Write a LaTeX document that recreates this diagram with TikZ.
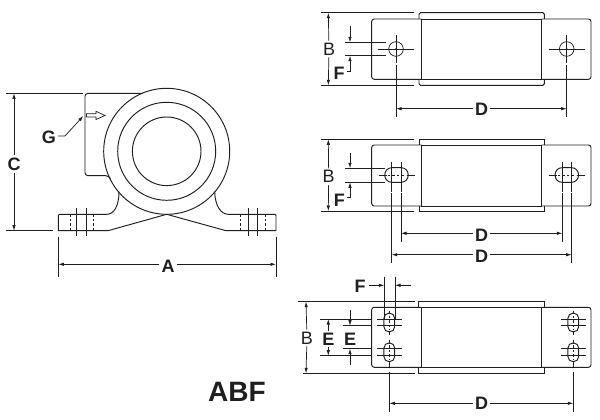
\documentclass[tikz,border=0pt]{standalone}
\usepackage{fontspec}
\setmainfont{Liberation Sans}
\usetikzlibrary{arrows.meta}
\definecolor{ink}{gray}{0.12}
\tikzset{
  x=1pt,y=-1pt,
  outline/.style={draw=ink,line width=0.95pt},
  thinl/.style={draw=ink,line width=0.7pt},
  hidden/.style={draw=ink,line width=0.7pt,dash pattern=on 2.5pt off 2pt},
  dim/.style={draw=ink,line width=0.7pt,-{Latex[length=5.5pt,width=3.4pt]}},
  lbl/.style={font=\bfseries\fontsize{18}{18}\selectfont,text=ink,inner sep=2pt},
  lblm/.style={font=\fontsize{18}{18}\selectfont,text=ink,inner sep=2pt},
}
\begin{document}
\begin{tikzpicture}
\useasboundingbox[fill=white] (0,0) rectangle (600,420);

% ---------- side view ----------
\coordinate (cc) at (166.7,151.3);
\draw[outline,rounded corners=3pt] (142.7,93.3) -- (85,93.3) -- (85,175.7) -- (106,175.7);
\draw[outline] (106,175.7) .. controls (108,176) and (109,177) .. (110.5,178.5);
\draw[outline] (cc) circle[radius=63];
\draw[outline] (cc) circle[radius=49];
\draw[outline] (cc) circle[radius=34.3];
% feet
\draw[outline,line join=round] (119,191.7) .. controls (119,206) and (114,214.3) .. (106.7,214.3)
  -- (59.5,214.3) -- (58.3,215.5) -- (58.3,230.7) -- (108,230.7) -- (166.7,214.3)
  -- (226,230.7) -- (276,230.7) -- (276,215.5) -- (275,214.3) -- (228.3,214.3)
  .. controls (221,214.3) and (215,206) .. (214.7,191.7);
% bolts
\foreach \bx in {76,86.7,248.3,257.3} \draw[thinl] (\bx,208.3) -- (\bx,236);
\foreach \bx in {70.7,93.3,240.7,265} \draw[hidden] (\bx,214.3) -- (\bx,230.7);
% C
\coordinate (c1) at (6,93.3); \coordinate (c2) at (82.7,93.3);
\coordinate (c3) at (6,230.7); \coordinate (c4) at (53,230.7);
\draw[thinl] (c1) -- (c2);
\draw[thinl] (c3) -- (c4);
\node[lbl] (lC) at (14,164) {C};
\coordinate (c5) at (14,93.3); \coordinate (c6) at (14,230.7);
\draw[dim] (lC) -- (c5);
\draw[dim] (lC) -- (c6);
% A
\coordinate (a1) at (58.3,236.7); \coordinate (a2) at (58.3,276.7);
\coordinate (a3) at (276,236.7); \coordinate (a4) at (276,276.7);
\draw[thinl] (a1) -- (a2);
\draw[thinl] (a3) -- (a4);
\node[lbl] (lA) at (168,266) {A};
\coordinate (a5) at (58.3,264.3); \coordinate (a6) at (276,264.3);
\draw[dim] (lA.west|-a5) -- (a5);
\draw[dim] (lA.east|-a6) -- (a6);
% G
\node[lbl] (lG) at (49,137) {G};
\coordinate (g1) at (65,136); \coordinate (g2) at (83.3,116);
\draw[dim] (lG.east|-g1) -- (g1) -- (g2);
\draw[thinl,line join=miter] (86.5,113.8) -- (96,113.8) -- (96,111.3) -- (105,115.5) -- (96,119.5) -- (96,117) -- (86.5,117) -- cycle;

% ---------- top view 1 ----------
\draw[outline,rounded corners=2.5pt] (421.7,79.3) -- (371.7,79.3) -- (371.7,19) -- (421.7,19);
\draw[outline,rounded corners=2.5pt] (541.7,19) -- (591,19) -- (591,79.3) -- (541.7,79.3);
\draw[outline] (421.7,19) rectangle (541.7,79.3);
\draw[outline,rounded corners=1.5pt] (419,19) -- (419,12.7) -- (544.3,12.7) -- (544.3,19);
\draw[outline,rounded corners=1.5pt] (419,79.3) -- (419,85.3) -- (544.3,85.3) -- (544.3,79.3);
\foreach \hx in {396,566.7}{
  \draw[thinl] (\hx,49) circle[radius=7.3];
  \fill[ink] (\hx,49) circle[radius=0.9];
  \draw[thinl] (\hx-18,49) -- (\hx+18,49);
  \draw[thinl] (\hx,35) -- (\hx,63);
  \draw[thinl] (\hx,65) -- (\hx,116.7);
}
\draw[thinl] (320.7,12.7) -- (414,12.7);
\draw[thinl] (320.7,85.3) -- (414,85.3);
\node[lblm] (lB1) at (329,49) {B};
\coordinate (b1t) at (328.3,12.7); \coordinate (b1b) at (328.3,85.3);
\draw[dim] (lB1) -- (b1t);
\draw[dim] (lB1) -- (b1b);
\draw[thinl] (345,42.3) -- (386,42.3);
\draw[thinl] (345,55.7) -- (386,55.7);
\coordinate (f1a) at (350,26); \coordinate (f1b) at (350,42.3);
\draw[dim] (f1a) -- (f1b);
\node[lbl] (lF1) at (339,73) {F};
\coordinate (f1c) at (350,71); \coordinate (f1d) at (350,55.7);
\draw[dim] (lF1.east|-f1c) -- (f1c) -- (f1d);
\node[lbl] (lD1) at (481.7,109) {D};
\coordinate (d1a) at (396,108.7); \coordinate (d1b) at (566.7,108.7);
\draw[dim] (lD1.west|-d1a) -- (d1a);
\draw[dim] (lD1.east|-d1b) -- (d1b);

% ---------- top view 2 ----------
\draw[outline,rounded corners=2.5pt] (421.7,206) -- (371.7,206) -- (371.7,145) -- (421.7,145);
\draw[outline,rounded corners=2.5pt] (541.7,145) -- (591,145) -- (591,206) -- (541.7,206);
\draw[outline] (421.7,145) rectangle (541.7,206);
\draw[outline] (419,145) -- (419,139.3) -- (544.3,139.3) -- (544.3,145);
\draw[outline] (419,206) -- (419,211) -- (544.3,211) -- (544.3,206);
\foreach \sx/\xa/\xb in {396.5/391.7/401,566.8/562.3/571.7}{
  \draw[outline,rounded corners=6.9pt] (\sx-11.7,167.7) rectangle (\sx+11.7,182.3);
  \draw[hidden] (\sx-9,175) -- (\sx+9,175);
  \draw[thinl] (\sx-18,175) -- (\sx-10,175);
  \draw[thinl] (\sx+10,175) -- (\sx+18,175);
  \draw[thinl] (\xa,162) -- (\xa,191.7);
  \draw[thinl] (\xb,162) -- (\xb,191.7);
}
\draw[thinl] (320.7,139.3) -- (414,139.3);
\draw[thinl] (320.7,211) -- (414,211);
\node[lblm] (lB2) at (328.7,176.7) {B};
\coordinate (b2t) at (328.3,139.3); \coordinate (b2b) at (328.3,211);
\draw[dim] (lB2) -- (b2t);
\draw[dim] (lB2) -- (b2b);
\draw[thinl] (345,168.3) -- (385,168.3);
\draw[thinl] (345,182.3) -- (385,182.3);
\coordinate (f2a) at (350,153); \coordinate (f2b) at (350,168.3);
\draw[dim] (f2a) -- (f2b);
\node[lbl] (lF2) at (339.3,200.7) {F};
\coordinate (f2c) at (350,197); \coordinate (f2d) at (350,182.3);
\draw[dim] (lF2.east|-f2c) -- (f2c) -- (f2d);
\draw[thinl] (401,193.3) -- (401,241.7);
\draw[thinl] (562.3,193.3) -- (562.3,241.7);
\draw[thinl] (391.7,193.3) -- (391.7,263.3);
\draw[thinl] (571.7,193.3) -- (571.7,263.3);
\node[lbl] (lD2) at (481.7,235) {D};
\coordinate (d2a) at (401,233.3); \coordinate (d2b) at (562.3,233.3);
\draw[dim] (lD2.west|-d2a) -- (d2a);
\draw[dim] (lD2.east|-d2b) -- (d2b);
\node[lbl] (lD3) at (481.7,256) {D};
\coordinate (d3a) at (391.7,254.7); \coordinate (d3b) at (571.7,254.7);
\draw[dim] (lD3.west|-d3a) -- (d3a);
\draw[dim] (lD3.east|-d3b) -- (d3b);

% ---------- top view 3 ----------
\draw[outline,rounded corners=2.5pt] (421,367.3) -- (371.7,367.3) -- (371.7,307.3) -- (421,307.3);
\draw[outline,rounded corners=2.5pt] (541.7,307.3) -- (591,307.3) -- (591,367.3) -- (541.7,367.3);
\draw[outline] (421,307.3) rectangle (541.7,367.3);
\draw[outline] (418.3,307.3) -- (418.3,301.7) -- (544.3,301.7) -- (544.3,307.3);
\draw[outline] (418.3,367.3) -- (418.3,373.3) -- (544.3,373.3) -- (544.3,367.3);
\foreach \sx in {389.3,573.3}{
  \foreach \sy/\ya/\yb in {322.5/319/325.7,352.3/348.7/355.7}{
    \draw[outline,rounded corners=5.2pt] (\sx-5.4,\sy-9.4) rectangle (\sx+5.4,\sy+9.4);
    \draw[thinl] (\sx-12,\ya) -- (\sx+12.3,\ya);
    \draw[thinl] (\sx-12,\yb) -- (\sx+12.3,\yb);
    \draw[hidden] (\sx,\sy-7) -- (\sx,\sy+7);
  }
  \draw[thinl] (\sx,310.5) -- (\sx,314);
  \draw[thinl] (\sx,331) -- (\sx,335);
  \draw[thinl] (\sx,340) -- (\sx,344);
  \draw[thinl] (\sx,361) -- (\sx,366.7);
  \draw[thinl] (\sx,371.7) -- (\sx,411.7);
}
\draw[thinl] (298,301.7) -- (415,301.7);
\draw[thinl] (303,373.3) -- (415,373.3);
\node[lblm] (lB3) at (307,338) {B};
\coordinate (b3t) at (306,301.7); \coordinate (b3b) at (306,373.3);
\draw[dim] (lB3) -- (b3t);
\draw[dim] (lB3) -- (b3b);
\draw[thinl] (320,319) -- (371.7,319);
\draw[thinl] (320,355.7) -- (371.7,355.7);
\draw[thinl] (342.7,325.7) -- (371.7,325.7);
\draw[thinl] (342.7,348.7) -- (371.7,348.7);
\node[lbl] (lE1) at (328.3,339) {E};
\coordinate (e1a) at (328.3,319); \coordinate (e1b) at (328.3,355.7);
\draw[dim] (lE1) -- (e1a);
\draw[dim] (lE1) -- (e1b);
\node[lbl] (lE2) at (350,339) {E};
\coordinate (e2a) at (350,310); \coordinate (e2b) at (350,325.7);
\coordinate (e2c) at (350,365); \coordinate (e2d) at (350,348.7);
\draw[dim] (e2a) -- (e2b);
\draw[dim] (e2c) -- (e2d);
\draw[thinl] (384.3,276.7) -- (384.3,320);
\draw[thinl] (395,276.7) -- (395,320);
\node[lbl] (lF3) at (360,286.7) {F};
\coordinate (f3a) at (369.3,285.3); \coordinate (f3b) at (384.3,285.3);
\coordinate (f3c) at (411,285.3); \coordinate (f3d) at (395,285.3);
\draw[dim] (f3a) -- (f3b);
\draw[dim] (f3c) -- (f3d);
\node[lbl] (lD4) at (481.7,403.5) {D};
\coordinate (d4a) at (389.3,403.3); \coordinate (d4b) at (573.3,403.3);
\draw[dim] (lD4.west|-d4a) -- (d4a);
\draw[dim] (lD4.east|-d4b) -- (d4b);

% title
\node[font=\bfseries\fontsize{28}{28}\selectfont,text=ink,inner sep=0pt] (title) at (237,392) {ABF};
\end{tikzpicture}
\end{document}
